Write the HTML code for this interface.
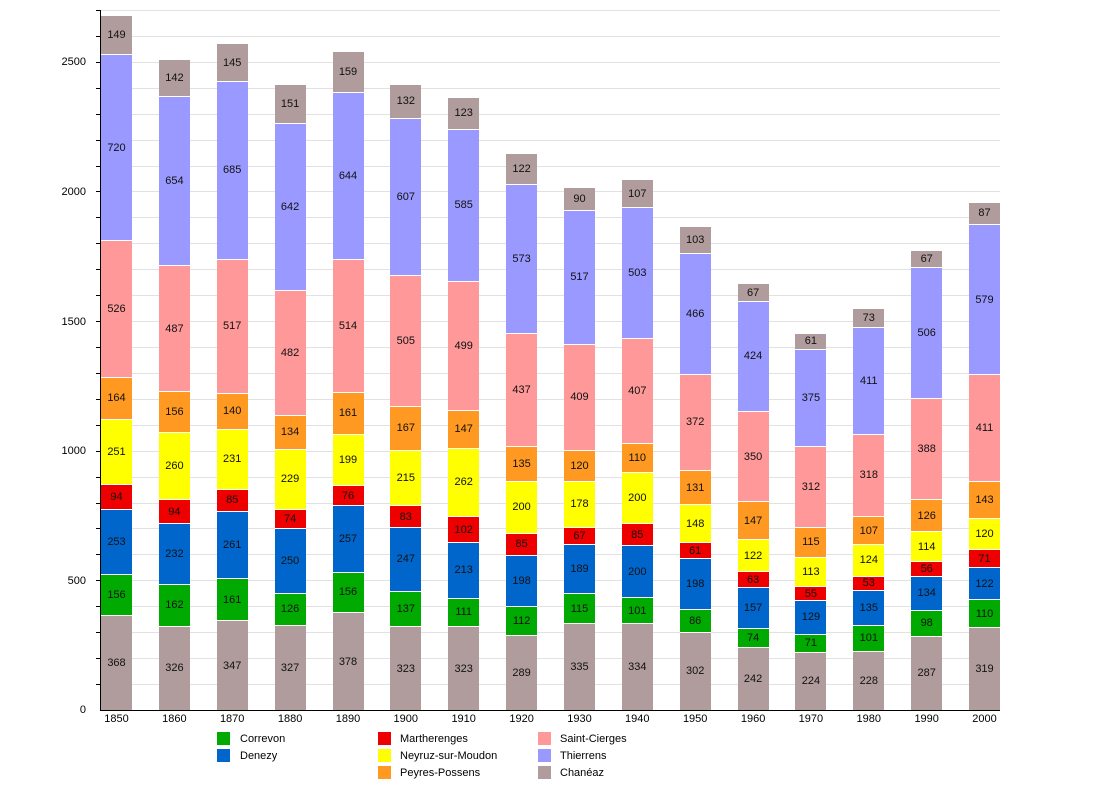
<!DOCTYPE html>
<html><head><meta charset="utf-8"><style>
body{margin:0;width:1100px;height:800px;background:#fff;position:relative;font-family:"Liberation Sans",sans-serif;overflow:hidden}
.g{position:absolute;left:100px;width:900px;height:1px;background:#e2e2e2}
.t{position:absolute;left:96px;width:4px;height:1px;background:#000}
.yl{position:absolute;left:40px;width:46px;text-align:right;font-size:11px;line-height:12px}
.xl{position:absolute;top:713px;width:40px;text-align:center;font-size:11px}
.bar{position:absolute;bottom:90px;width:31px;display:flex;flex-direction:column-reverse}
.bar i{font-style:normal;display:flex;align-items:center;justify-content:center;font-size:11px;color:#111;box-sizing:border-box;border-top:1px solid #fff;overflow:visible;flex:none}
.a{background:#b09c9c}.b{background:#00aa00}.c{background:#0066cc}.d{background:#ee0000}.e{background:#ffff00}.f{background:#ff9922}.h{background:#ff9999}.j{background:#9999ff}
.lg{position:absolute;width:13px;height:13px}
.lt{position:absolute;font-size:11px}
</style></head><body>
<div class="g" style="top:684px"></div><div class="g" style="top:658px"></div><div class="g" style="top:632px"></div><div class="g" style="top:606px"></div><div class="g" style="top:580px"></div><div class="g" style="top:554px"></div><div class="g" style="top:528px"></div><div class="g" style="top:503px"></div><div class="g" style="top:477px"></div><div class="g" style="top:451px"></div><div class="g" style="top:425px"></div><div class="g" style="top:399px"></div><div class="g" style="top:373px"></div><div class="g" style="top:347px"></div><div class="g" style="top:321px"></div><div class="g" style="top:295px"></div><div class="g" style="top:269px"></div><div class="g" style="top:243px"></div><div class="g" style="top:217px"></div><div class="g" style="top:191px"></div><div class="g" style="top:166px"></div><div class="g" style="top:140px"></div><div class="g" style="top:114px"></div><div class="g" style="top:88px"></div><div class="g" style="top:62px"></div><div class="g" style="top:36px"></div><div class="g" style="top:10px"></div>
<div class="t" style="top:684px"></div><div class="t" style="top:658px"></div><div class="t" style="top:632px"></div><div class="t" style="top:606px"></div><div class="t" style="top:580px"></div><div class="t" style="top:554px"></div><div class="t" style="top:528px"></div><div class="t" style="top:503px"></div><div class="t" style="top:477px"></div><div class="t" style="top:451px"></div><div class="t" style="top:425px"></div><div class="t" style="top:399px"></div><div class="t" style="top:373px"></div><div class="t" style="top:347px"></div><div class="t" style="top:321px"></div><div class="t" style="top:295px"></div><div class="t" style="top:269px"></div><div class="t" style="top:243px"></div><div class="t" style="top:217px"></div><div class="t" style="top:191px"></div><div class="t" style="top:166px"></div><div class="t" style="top:140px"></div><div class="t" style="top:114px"></div><div class="t" style="top:88px"></div><div class="t" style="top:62px"></div><div class="t" style="top:36px"></div><div class="t" style="top:10px"></div>
<div style="position:absolute;left:100px;top:10px;width:1px;height:701px;background:#000"></div>
<div style="position:absolute;left:100px;top:710px;width:900px;height:1px;background:#000"></div>
<div class="yl" style="top:704px">0</div><div class="yl" style="top:575px">500</div><div class="yl" style="top:445px">1000</div><div class="yl" style="top:316px">1500</div><div class="yl" style="top:186px">2000</div><div class="yl" style="top:56px">2500</div>

<div class="bar" style="left:101px"><i class="a" style="height:calc(368px*.2592)">368</i><i class="b" style="height:calc(156px*.2592)">156</i><i class="c" style="height:calc(253px*.2592)">253</i><i class="d" style="height:calc(94px*.2592)">94</i><i class="e" style="height:calc(251px*.2592)">251</i><i class="f" style="height:calc(164px*.2592)">164</i><i class="h" style="height:calc(526px*.2592)">526</i><i class="j" style="height:calc(720px*.2592)">720</i><i class="a" style="height:calc(149px*.2592)">149</i></div>
<div class="bar" style="left:158.9px"><i class="a" style="height:calc(326px*.2592)">326</i><i class="b" style="height:calc(162px*.2592)">162</i><i class="c" style="height:calc(232px*.2592)">232</i><i class="d" style="height:calc(94px*.2592)">94</i><i class="e" style="height:calc(260px*.2592)">260</i><i class="f" style="height:calc(156px*.2592)">156</i><i class="h" style="height:calc(487px*.2592)">487</i><i class="j" style="height:calc(654px*.2592)">654</i><i class="a" style="height:calc(142px*.2592)">142</i></div>
<div class="bar" style="left:216.7px"><i class="a" style="height:calc(347px*.2592)">347</i><i class="b" style="height:calc(161px*.2592)">161</i><i class="c" style="height:calc(261px*.2592)">261</i><i class="d" style="height:calc(85px*.2592)">85</i><i class="e" style="height:calc(231px*.2592)">231</i><i class="f" style="height:calc(140px*.2592)">140</i><i class="h" style="height:calc(517px*.2592)">517</i><i class="j" style="height:calc(685px*.2592)">685</i><i class="a" style="height:calc(145px*.2592)">145</i></div>
<div class="bar" style="left:274.6px"><i class="a" style="height:calc(327px*.2592)">327</i><i class="b" style="height:calc(126px*.2592)">126</i><i class="c" style="height:calc(250px*.2592)">250</i><i class="d" style="height:calc(74px*.2592)">74</i><i class="e" style="height:calc(229px*.2592)">229</i><i class="f" style="height:calc(134px*.2592)">134</i><i class="h" style="height:calc(482px*.2592)">482</i><i class="j" style="height:calc(642px*.2592)">642</i><i class="a" style="height:calc(151px*.2592)">151</i></div>
<div class="bar" style="left:332.5px"><i class="a" style="height:calc(378px*.2592)">378</i><i class="b" style="height:calc(156px*.2592)">156</i><i class="c" style="height:calc(257px*.2592)">257</i><i class="d" style="height:calc(76px*.2592)">76</i><i class="e" style="height:calc(199px*.2592)">199</i><i class="f" style="height:calc(161px*.2592)">161</i><i class="h" style="height:calc(514px*.2592)">514</i><i class="j" style="height:calc(644px*.2592)">644</i><i class="a" style="height:calc(159px*.2592)">159</i></div>
<div class="bar" style="left:390.3px"><i class="a" style="height:calc(323px*.2592)">323</i><i class="b" style="height:calc(137px*.2592)">137</i><i class="c" style="height:calc(247px*.2592)">247</i><i class="d" style="height:calc(83px*.2592)">83</i><i class="e" style="height:calc(215px*.2592)">215</i><i class="f" style="height:calc(167px*.2592)">167</i><i class="h" style="height:calc(505px*.2592)">505</i><i class="j" style="height:calc(607px*.2592)">607</i><i class="a" style="height:calc(132px*.2592)">132</i></div>
<div class="bar" style="left:448.2px"><i class="a" style="height:calc(323px*.2592)">323</i><i class="b" style="height:calc(111px*.2592)">111</i><i class="c" style="height:calc(213px*.2592)">213</i><i class="d" style="height:calc(102px*.2592)">102</i><i class="e" style="height:calc(262px*.2592)">262</i><i class="f" style="height:calc(147px*.2592)">147</i><i class="h" style="height:calc(499px*.2592)">499</i><i class="j" style="height:calc(585px*.2592)">585</i><i class="a" style="height:calc(123px*.2592)">123</i></div>
<div class="bar" style="left:506.1px"><i class="a" style="height:calc(289px*.2592)">289</i><i class="b" style="height:calc(112px*.2592)">112</i><i class="c" style="height:calc(198px*.2592)">198</i><i class="d" style="height:calc(85px*.2592)">85</i><i class="e" style="height:calc(200px*.2592)">200</i><i class="f" style="height:calc(135px*.2592)">135</i><i class="h" style="height:calc(437px*.2592)">437</i><i class="j" style="height:calc(573px*.2592)">573</i><i class="a" style="height:calc(122px*.2592)">122</i></div>
<div class="bar" style="left:564px"><i class="a" style="height:calc(335px*.2592)">335</i><i class="b" style="height:calc(115px*.2592)">115</i><i class="c" style="height:calc(189px*.2592)">189</i><i class="d" style="height:calc(67px*.2592)">67</i><i class="e" style="height:calc(178px*.2592)">178</i><i class="f" style="height:calc(120px*.2592)">120</i><i class="h" style="height:calc(409px*.2592)">409</i><i class="j" style="height:calc(517px*.2592)">517</i><i class="a" style="height:calc(90px*.2592)">90</i></div>
<div class="bar" style="left:621.8px"><i class="a" style="height:calc(334px*.2592)">334</i><i class="b" style="height:calc(101px*.2592)">101</i><i class="c" style="height:calc(200px*.2592)">200</i><i class="d" style="height:calc(85px*.2592)">85</i><i class="e" style="height:calc(200px*.2592)">200</i><i class="f" style="height:calc(110px*.2592)">110</i><i class="h" style="height:calc(407px*.2592)">407</i><i class="j" style="height:calc(503px*.2592)">503</i><i class="a" style="height:calc(107px*.2592)">107</i></div>
<div class="bar" style="left:679.7px"><i class="a" style="height:calc(302px*.2592)">302</i><i class="b" style="height:calc(86px*.2592)">86</i><i class="c" style="height:calc(198px*.2592)">198</i><i class="d" style="height:calc(61px*.2592)">61</i><i class="e" style="height:calc(148px*.2592)">148</i><i class="f" style="height:calc(131px*.2592)">131</i><i class="h" style="height:calc(372px*.2592)">372</i><i class="j" style="height:calc(466px*.2592)">466</i><i class="a" style="height:calc(103px*.2592)">103</i></div>
<div class="bar" style="left:737.6px"><i class="a" style="height:calc(242px*.2592)">242</i><i class="b" style="height:calc(74px*.2592)">74</i><i class="c" style="height:calc(157px*.2592)">157</i><i class="d" style="height:calc(63px*.2592)">63</i><i class="e" style="height:calc(122px*.2592)">122</i><i class="f" style="height:calc(147px*.2592)">147</i><i class="h" style="height:calc(350px*.2592)">350</i><i class="j" style="height:calc(424px*.2592)">424</i><i class="a" style="height:calc(67px*.2592)">67</i></div>
<div class="bar" style="left:795.4px"><i class="a" style="height:calc(224px*.2592)">224</i><i class="b" style="height:calc(71px*.2592)">71</i><i class="c" style="height:calc(129px*.2592)">129</i><i class="d" style="height:calc(55px*.2592)">55</i><i class="e" style="height:calc(113px*.2592)">113</i><i class="f" style="height:calc(115px*.2592)">115</i><i class="h" style="height:calc(312px*.2592)">312</i><i class="j" style="height:calc(375px*.2592)">375</i><i class="a" style="height:calc(61px*.2592)">61</i></div>
<div class="bar" style="left:853.3px"><i class="a" style="height:calc(228px*.2592)">228</i><i class="b" style="height:calc(101px*.2592)">101</i><i class="c" style="height:calc(135px*.2592)">135</i><i class="d" style="height:calc(53px*.2592)">53</i><i class="e" style="height:calc(124px*.2592)">124</i><i class="f" style="height:calc(107px*.2592)">107</i><i class="h" style="height:calc(318px*.2592)">318</i><i class="j" style="height:calc(411px*.2592)">411</i><i class="a" style="height:calc(73px*.2592)">73</i></div>
<div class="bar" style="left:911.2px"><i class="a" style="height:calc(287px*.2592)">287</i><i class="b" style="height:calc(98px*.2592)">98</i><i class="c" style="height:calc(134px*.2592)">134</i><i class="d" style="height:calc(56px*.2592)">56</i><i class="e" style="height:calc(114px*.2592)">114</i><i class="f" style="height:calc(126px*.2592)">126</i><i class="h" style="height:calc(388px*.2592)">388</i><i class="j" style="height:calc(506px*.2592)">506</i><i class="a" style="height:calc(67px*.2592)">67</i></div>
<div class="bar" style="left:969px"><i class="a" style="height:calc(319px*.2592)">319</i><i class="b" style="height:calc(110px*.2592)">110</i><i class="c" style="height:calc(122px*.2592)">122</i><i class="d" style="height:calc(71px*.2592)">71</i><i class="e" style="height:calc(120px*.2592)">120</i><i class="f" style="height:calc(143px*.2592)">143</i><i class="h" style="height:calc(411px*.2592)">411</i><i class="j" style="height:calc(579px*.2592)">579</i><i class="a" style="height:calc(87px*.2592)">87</i></div>

<div class="xl" style="left:96.5px">1850</div><div class="xl" style="left:154.4px">1860</div><div class="xl" style="left:212.2px">1870</div><div class="xl" style="left:270.1px">1880</div><div class="xl" style="left:328px">1890</div><div class="xl" style="left:385.8px">1900</div><div class="xl" style="left:443.7px">1910</div><div class="xl" style="left:501.6px">1920</div><div class="xl" style="left:559.5px">1930</div><div class="xl" style="left:617.3px">1940</div><div class="xl" style="left:675.2px">1950</div><div class="xl" style="left:733.1px">1960</div><div class="xl" style="left:790.9px">1970</div><div class="xl" style="left:848.8px">1980</div><div class="xl" style="left:906.7px">1990</div><div class="xl" style="left:964.5px">2000</div>

<div class="lg b" style="left:217px;top:732px"></div><div class="lt" style="left:240px;top:733px">Correvon</div>
<div class="lg c" style="left:217px;top:749px"></div><div class="lt" style="left:240px;top:750px">Denezy</div>
<div class="lg d" style="left:378px;top:732px"></div><div class="lt" style="left:400px;top:733px">Martherenges</div>
<div class="lg e" style="left:378px;top:749px"></div><div class="lt" style="left:400px;top:750px">Neyruz-sur-Moudon</div>
<div class="lg f" style="left:378px;top:766px"></div><div class="lt" style="left:400px;top:767px">Peyres-Possens</div>
<div class="lg h" style="left:538px;top:732px"></div><div class="lt" style="left:560px;top:733px">Saint-Cierges</div>
<div class="lg j" style="left:538px;top:749px"></div><div class="lt" style="left:560px;top:750px">Thierrens</div>
<div class="lg a" style="left:538px;top:766px"></div><div class="lt" style="left:560px;top:767px">Chanéaz</div>
</body></html>
